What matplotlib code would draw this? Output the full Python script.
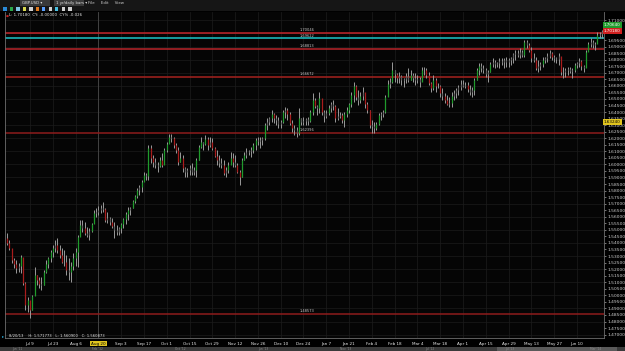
import numpy as np
import matplotlib
matplotlib.use("Agg")
import matplotlib.pyplot as plt
from matplotlib.patches import Rectangle

# GBP.USD, 1 yr of daily bars (Jun 25 2013 - Jun 25 2014)
highs = [
    1.5476, 1.5422, 1.5346, 1.5285, 1.5270, 1.5247, 1.5308, 1.5216, 1.5102, 1.4987,
    1.4941, 1.5002, 1.5216, 1.5155, 1.5140, 1.5140, 1.5193, 1.5270, 1.5293, 1.5346,
    1.5384, 1.5422, 1.5438, 1.5384, 1.5361, 1.5346, 1.5308, 1.5285, 1.5254, 1.5323,
    1.5361, 1.5461, 1.5575, 1.5575, 1.5560, 1.5522, 1.5514, 1.5552, 1.5652, 1.5667,
    1.5682, 1.5690, 1.5713, 1.5667, 1.5636, 1.5598, 1.5590, 1.5560, 1.5537, 1.5522,
    1.5552, 1.5590, 1.5636, 1.5675, 1.5675, 1.5728, 1.5766, 1.5820, 1.5843, 1.5881,
    1.5942, 1.5934, 1.6148, 1.6148, 1.6072, 1.6049, 1.6018, 1.6057, 1.6087, 1.6125,
    1.6171, 1.6232, 1.6232, 1.6209, 1.6163, 1.6133, 1.6095, 1.6072, 1.5980, 1.5972,
    1.5995, 1.6011, 1.5980, 1.6049, 1.6148, 1.6209, 1.6171, 1.6225, 1.6209, 1.6209,
    1.6202, 1.6133, 1.6110, 1.6072, 1.6049, 1.6034, 1.5980, 1.6018, 1.6095, 1.6087,
    1.6072, 1.6011, 1.5957, 1.6049, 1.6095, 1.6125, 1.6110, 1.6133, 1.6163, 1.6202,
    1.6209, 1.6209, 1.6209, 1.6316, 1.6354, 1.6362, 1.6416, 1.6393, 1.6377, 1.6362,
    1.6339, 1.6416, 1.6439, 1.6431, 1.6400, 1.6339, 1.6301, 1.6286, 1.6431, 1.6354,
    1.6362, 1.6354, 1.6362, 1.6416, 1.6545, 1.6507, 1.6454, 1.6553, 1.6454, 1.6416,
    1.6416, 1.6454, 1.6477, 1.6492, 1.6454, 1.6431, 1.6400, 1.6393, 1.6400, 1.6439,
    1.6469, 1.6553, 1.6630, 1.6607, 1.6568, 1.6553, 1.6591, 1.6530, 1.6477, 1.6416,
    1.6339, 1.6324, 1.6324, 1.6393, 1.6400, 1.6416, 1.6530, 1.6645, 1.6660, 1.6782,
    1.6721, 1.6698, 1.6706, 1.6683, 1.6660, 1.6698, 1.6736, 1.6721, 1.6698, 1.6698,
    1.6683, 1.6668, 1.6744, 1.6744, 1.6736, 1.6706, 1.6630, 1.6683, 1.6660, 1.6622,
    1.6607, 1.6584, 1.6545, 1.6530, 1.6515, 1.6553, 1.6568, 1.6584, 1.6607, 1.6645,
    1.6645, 1.6630, 1.6630, 1.6607, 1.6591, 1.6660, 1.6736, 1.6775, 1.6775, 1.6759,
    1.6736, 1.6721, 1.6782, 1.6813, 1.6798, 1.6782, 1.6813, 1.6813, 1.6813, 1.6821,
    1.6813, 1.6821, 1.6851, 1.6874, 1.6874, 1.6889, 1.6874, 1.6950, 1.6950, 1.6927,
    1.6897, 1.6851, 1.6821, 1.6798, 1.6782, 1.6821, 1.6821, 1.6851, 1.6874, 1.6859,
    1.6836, 1.6821, 1.6851, 1.6782, 1.6744, 1.6736, 1.6744, 1.6744, 1.6736, 1.6775,
    1.6782, 1.6813, 1.6798, 1.6759, 1.6874, 1.6935, 1.6966, 1.6950, 1.6935, 1.7012,
    1.7012, 1.7030,
]
lows = [
    1.5384, 1.5346, 1.5247, 1.5208, 1.5170, 1.5178, 1.5170, 1.5079, 1.4888, 1.4872,
    1.4826, 1.4888, 1.5002, 1.5079, 1.5056, 1.5040, 1.5079, 1.5170, 1.5208, 1.5254,
    1.5293, 1.5331, 1.5323, 1.5285, 1.5247, 1.5224, 1.5155, 1.5117, 1.5102, 1.5193,
    1.5224, 1.5216, 1.5461, 1.5484, 1.5461, 1.5445, 1.5422, 1.5484, 1.5552, 1.5598,
    1.5613, 1.5629, 1.5636, 1.5560, 1.5552, 1.5537, 1.5514, 1.5438, 1.5461, 1.5461,
    1.5476, 1.5514, 1.5545, 1.5575, 1.5613, 1.5667, 1.5705, 1.5743, 1.5766, 1.5789,
    1.5881, 1.5881, 1.5881, 1.6011, 1.5980, 1.5972, 1.5942, 1.5980, 1.5980, 1.6011,
    1.6095, 1.6163, 1.6171, 1.6125, 1.6087, 1.5995, 1.6018, 1.5942, 1.5904, 1.5904,
    1.5919, 1.5919, 1.5919, 1.5904, 1.6034, 1.6125, 1.6110, 1.6148, 1.6110, 1.6133,
    1.6110, 1.6057, 1.5995, 1.5980, 1.5972, 1.5919, 1.5904, 1.5934, 1.6011, 1.5980,
    1.5980, 1.5934, 1.5843, 1.5904, 1.6034, 1.6049, 1.6072, 1.6057, 1.6087, 1.6110,
    1.6148, 1.6125, 1.6148, 1.6186, 1.6263, 1.6301, 1.6324, 1.6316, 1.6301, 1.6278,
    1.6278, 1.6316, 1.6354, 1.6339, 1.6301, 1.6248, 1.6225, 1.6209, 1.6225, 1.6301,
    1.6301, 1.6301, 1.6301, 1.6324, 1.6377, 1.6431, 1.6377, 1.6393, 1.6377, 1.6324,
    1.6354, 1.6377, 1.6400, 1.6416, 1.6324, 1.6339, 1.6354, 1.6316, 1.6286, 1.6362,
    1.6393, 1.6439, 1.6477, 1.6492, 1.6454, 1.6469, 1.6492, 1.6431, 1.6393, 1.6278,
    1.6240, 1.6240, 1.6263, 1.6301, 1.6339, 1.6362, 1.6393, 1.6553, 1.6584, 1.6622,
    1.6630, 1.6622, 1.6622, 1.6607, 1.6591, 1.6622, 1.6630, 1.6645, 1.6630, 1.6607,
    1.6622, 1.6591, 1.6645, 1.6683, 1.6660, 1.6607, 1.6553, 1.6568, 1.6553, 1.6584,
    1.6515, 1.6492, 1.6469, 1.6454, 1.6439, 1.6439, 1.6492, 1.6507, 1.6530, 1.6568,
    1.6591, 1.6584, 1.6553, 1.6530, 1.6515, 1.6530, 1.6645, 1.6683, 1.6706, 1.6698,
    1.6668, 1.6630, 1.6706, 1.6744, 1.6736, 1.6744, 1.6736, 1.6759, 1.6736, 1.6744,
    1.6744, 1.6759, 1.6775, 1.6798, 1.6821, 1.6813, 1.6821, 1.6821, 1.6889, 1.6859,
    1.6782, 1.6782, 1.6721, 1.6706, 1.6721, 1.6744, 1.6775, 1.6782, 1.6813, 1.6798,
    1.6782, 1.6775, 1.6759, 1.6683, 1.6660, 1.6668, 1.6683, 1.6698, 1.6660, 1.6706,
    1.6736, 1.6744, 1.6721, 1.6706, 1.6744, 1.6874, 1.6897, 1.6889, 1.6874, 1.6950,
    1.6966, 1.6966,
]
closes = [
    1.5399, 1.5361, 1.5270, 1.5239, 1.5208, 1.5224, 1.5293, 1.5094, 1.4926, 1.4964,
    1.4888, 1.4995, 1.5155, 1.5117, 1.5086, 1.5079, 1.5178, 1.5239, 1.5285, 1.5331,
    1.5361, 1.5384, 1.5346, 1.5308, 1.5254, 1.5254, 1.5193, 1.5178, 1.5224, 1.5285,
    1.5331, 1.5445, 1.5537, 1.5514, 1.5476, 1.5461, 1.5491, 1.5545, 1.5629, 1.5636,
    1.5652, 1.5667, 1.5659, 1.5575, 1.5590, 1.5560, 1.5529, 1.5499, 1.5484, 1.5514,
    1.5545, 1.5583, 1.5621, 1.5652, 1.5667, 1.5720, 1.5759, 1.5804, 1.5827, 1.5866,
    1.5919, 1.5911, 1.6125, 1.6049, 1.6018, 1.5995, 1.5988, 1.6034, 1.5995, 1.6110,
    1.6156, 1.6209, 1.6202, 1.6148, 1.6110, 1.6018, 1.6049, 1.5972, 1.5942, 1.5957,
    1.5972, 1.5942, 1.5957, 1.6034, 1.6133, 1.6171, 1.6156, 1.6194, 1.6148, 1.6171,
    1.6125, 1.6064, 1.6034, 1.6011, 1.5995, 1.5934, 1.5957, 1.5995, 1.6049, 1.6018,
    1.5995, 1.5942, 1.5904, 1.6034, 1.6072, 1.6095, 1.6102, 1.6110, 1.6148, 1.6186,
    1.6179, 1.6186, 1.6202, 1.6301, 1.6324, 1.6354, 1.6385, 1.6354, 1.6339, 1.6309,
    1.6324, 1.6400, 1.6416, 1.6385, 1.6316, 1.6278, 1.6263, 1.6240, 1.6354, 1.6324,
    1.6332, 1.6347, 1.6332, 1.6400, 1.6492, 1.6446, 1.6431, 1.6507, 1.6400, 1.6370,
    1.6393, 1.6431, 1.6461, 1.6446, 1.6354, 1.6370, 1.6377, 1.6339, 1.6385, 1.6416,
    1.6461, 1.6530, 1.6599, 1.6515, 1.6492, 1.6523, 1.6553, 1.6461, 1.6416, 1.6301,
    1.6293, 1.6278, 1.6309, 1.6377, 1.6385, 1.6400, 1.6515, 1.6614, 1.6630, 1.6721,
    1.6691, 1.6660, 1.6675, 1.6645, 1.6652, 1.6675, 1.6645, 1.6683, 1.6660, 1.6645,
    1.6652, 1.6630, 1.6721, 1.6721, 1.6683, 1.6622, 1.6584, 1.6645, 1.6599, 1.6599,
    1.6545, 1.6523, 1.6492, 1.6461, 1.6469, 1.6523, 1.6545, 1.6568, 1.6591, 1.6614,
    1.6599, 1.6607, 1.6576, 1.6553, 1.6568, 1.6645, 1.6721, 1.6752, 1.6736, 1.6721,
    1.6691, 1.6706, 1.6767, 1.6782, 1.6767, 1.6775, 1.6790, 1.6782, 1.6798, 1.6782,
    1.6798, 1.6813, 1.6843, 1.6851, 1.6836, 1.6859, 1.6836, 1.6935, 1.6912, 1.6874,
    1.6813, 1.6798, 1.6736, 1.6752, 1.6767, 1.6798, 1.6813, 1.6828, 1.6851, 1.6821,
    1.6813, 1.6805, 1.6828, 1.6706, 1.6706, 1.6721, 1.6729, 1.6714, 1.6721, 1.6759,
    1.6775, 1.6790, 1.6752, 1.6736, 1.6859, 1.6920, 1.6935, 1.6912, 1.6920, 1.6989,
    1.6996, 1.7018,
]
first_open = 1.5440

date_labels = ["Jul 9", "Jul 23", "Aug 6", "Aug 20", "Sep 3", "Sep 17", "Oct 1",
               "Oct 15", "Oct 29", "Nov 12", "Nov 26", "Dec 10", "Dec 24", "Jan 7",
               "Jan 21", "Feb 4", "Feb 18", "Mar 4", "Mar 18", "Apr 1", "Apr 15",
               "Apr 29", "May 13", "May 27", "Jun 10"]

# horizontal levels drawn on the chart
levels = [1.70046, 1.69622, 1.68813, 1.66672, 1.62396, 1.48573]
level_colors = ["#c3262b", "#1cc4c9", "#b8252a", "#a6221f", "#8e1c1c", "#8e1c1c"]

W, H = 625, 351
fig = plt.figure(figsize=(W / 100, H / 100), dpi=100, facecolor="#000000")

def fx(px):
    return px / W

def fy(py):
    return 1 - py / H

# chart area in pixels: x 5..604, y 12..338
ax = fig.add_axes([fx(5), fy(338), fx(604) - fx(5), fy(12) - fy(338)])
ax.set_facecolor("#050505")

n = len(closes)
xs = np.arange(n)
opens = [first_open] + closes[:-1]

# grid
for k in range(len(date_labels)):
    ax.axvline(10 + 10 * k, color="#1d1d1d", lw=0.5, zorder=0)
for lv in np.arange(1.47, 1.7151, 0.01):
    ax.axhline(lv, color="#1b1b1b", lw=0.5, zorder=0)

# crosshair on Aug 20
ax.axvline(40, color="#4a4a4a", lw=0.6, zorder=1)

# levels
for lv, c in zip(levels, level_colors):
    ax.axhline(lv, color=c, lw=1.1, zorder=2)
    ax.text(128.5, lv + 0.0007, f"{lv:.5f}", color="#c8c8c8", fontsize=2.6,
            va="bottom", ha="left", zorder=3)

# bars: gray high-low wick, coloured body on the bigger moves
ax.vlines(xs, lows, highs, color="#9a9a9a", lw=0.7, zorder=4)
body_cols = []
for o, c in zip(opens, closes):
    if c - o >= 0.003:
        body_cols.append("#1f9b2c")
    elif o - c >= 0.003:
        body_cols.append("#a81c1c")
    else:
        body_cols.append("#5c5c5c")
ax.vlines(xs, opens, closes, color=body_cols, lw=0.9, zorder=5)

ax.set_xlim(-0.97, 261.9)
ax.set_ylim(1.4674, 1.7164)

# right price axis (the two top labels sit under the price tags)
ax.yaxis.tick_right()
yt = np.round(np.arange(1.47, 1.7101, 0.005), 3)
ax.set_yticks(yt)
ax.set_yticklabels(["" if v in (1.705, 1.7) else f"{v:.5f}" for v in yt])
ax.tick_params(axis="y", colors="#cfcfcf", labelsize=3.2, length=1.2, width=0.4, pad=1.2)

ax.set_xticks([10 + 10 * k for k in range(len(date_labels))])
ax.set_xticklabels(date_labels)
ax.tick_params(axis="x", colors="#e8e8e8", labelsize=3.0, length=0, pad=2.6)
xl = ax.get_xticklabels()[3]
xl.set_color("#000000")
xl.set_bbox(dict(facecolor="#e0c41e", edgecolor="none", pad=0.6))

ax.spines["top"].set_visible(False)
for side in ["left", "right", "bottom"]:
    ax.spines[side].set_color("#6e6e6e")
    ax.spines[side].set_linewidth(0.6)

# price tags on the right scale
def tag(price, text, face, tc):
    ax.text(1.0, price, text, transform=ax.get_yaxis_transform(), fontsize=3.0,
            color=tc, va="center", ha="left", clip_on=False, zorder=10,
            bbox=dict(facecolor=face, edgecolor="none", pad=0.7))

tag(1.7064, "1.70640", "#1f9b2c", "#ffffff")
tag(1.7018, "1.70180", "#d0201f", "#ffffff")
tag(1.6324, "1.63240", "#e0c41e", "#000000")

# top strip: menu + toolbar
fig.patches.append(Rectangle((0, fy(11)), 1, 1 - fy(11), transform=fig.transFigure,
                             facecolor="#161616", edgecolor="none", zorder=0))
fig.patches.append(Rectangle((fx(20), fy(6)), fx(30), fy(0.5) - fy(6), transform=fig.transFigure,
                             facecolor="#3a3a3a", edgecolor="none"))
fig.patches.append(Rectangle((fx(54), fy(6)), fx(30), fy(0.5) - fy(6), transform=fig.transFigure,
                             facecolor="#3a3a3a", edgecolor="none"))
fig.text(fx(22), fy(3.3), "GBP.USD ▾", fontsize=2.8, color="#e0e0e0", va="center")
fig.text(fx(56), fy(3.3), "1 yr/daily bars ▾", fontsize=2.8, color="#e0e0e0", va="center")
fig.text(fx(88), fy(3.3), "File     Edit     View", fontsize=2.8, color="#cfcfcf", va="center")
icon_cols = ["#2a8ad8", "#2aa84a", "#7fc6e8", "#d8d850", "#d0d0d0", "#e07b20",
             "#5aa0ff", "#d0d0d0", "#4ac0e0", "#d0d0d0", "#d0d0d0"]
for k, c in enumerate(icon_cols):
    fig.patches.append(Rectangle((fx(3 + 6.5 * k), fy(10.5)), fx(3.5), fy(7) - fy(10.5),
                                 transform=fig.transFigure, facecolor=c, edgecolor="none"))

# legend line inside chart
fig.text(fx(6), fy(15.5), "●", fontsize=2.4, color="#d02020", va="center")
fig.text(fx(9), fy(15.5), "L: 1.70180  CY: -0.00000  CY% -0.026", fontsize=2.8,
         color="#e8e8e8", va="center")

# bottom-left bar readout
fig.text(fx(2), fy(336), "▸", fontsize=3, color="#2ab0e0", va="center")
fig.text(fx(9), fy(336), "8/20/13    H: 1.571773   L: 1.560900   C: 1.560873",
         fontsize=2.7, color="#e8e8e8", va="center")

# bottom scroll bar
fig.patches.append(Rectangle((0, 0), 1, fy(347), transform=fig.transFigure,
                             facecolor="#3a3a3a", edgecolor="none"))
fig.patches.append(Rectangle((fx(497), 0), fx(120), fy(347), transform=fig.transFigure,
                             facecolor="#5a5a5a", edgecolor="none"))
for px, s in [(12, "Jun '11"), (92, "Feb '12"), (175, "Oct '12"), (258, "Jun '13"),
              (340, "Nov '13"), (425, "Jul '12"), (505, "Jul '13"), (590, "Mar '14")]:
    fig.text(fx(px), fy(349), s, fontsize=2.2, color="#8a8a8a", va="center")

fig.savefig("out.png", dpi=100, facecolor="#000000")
